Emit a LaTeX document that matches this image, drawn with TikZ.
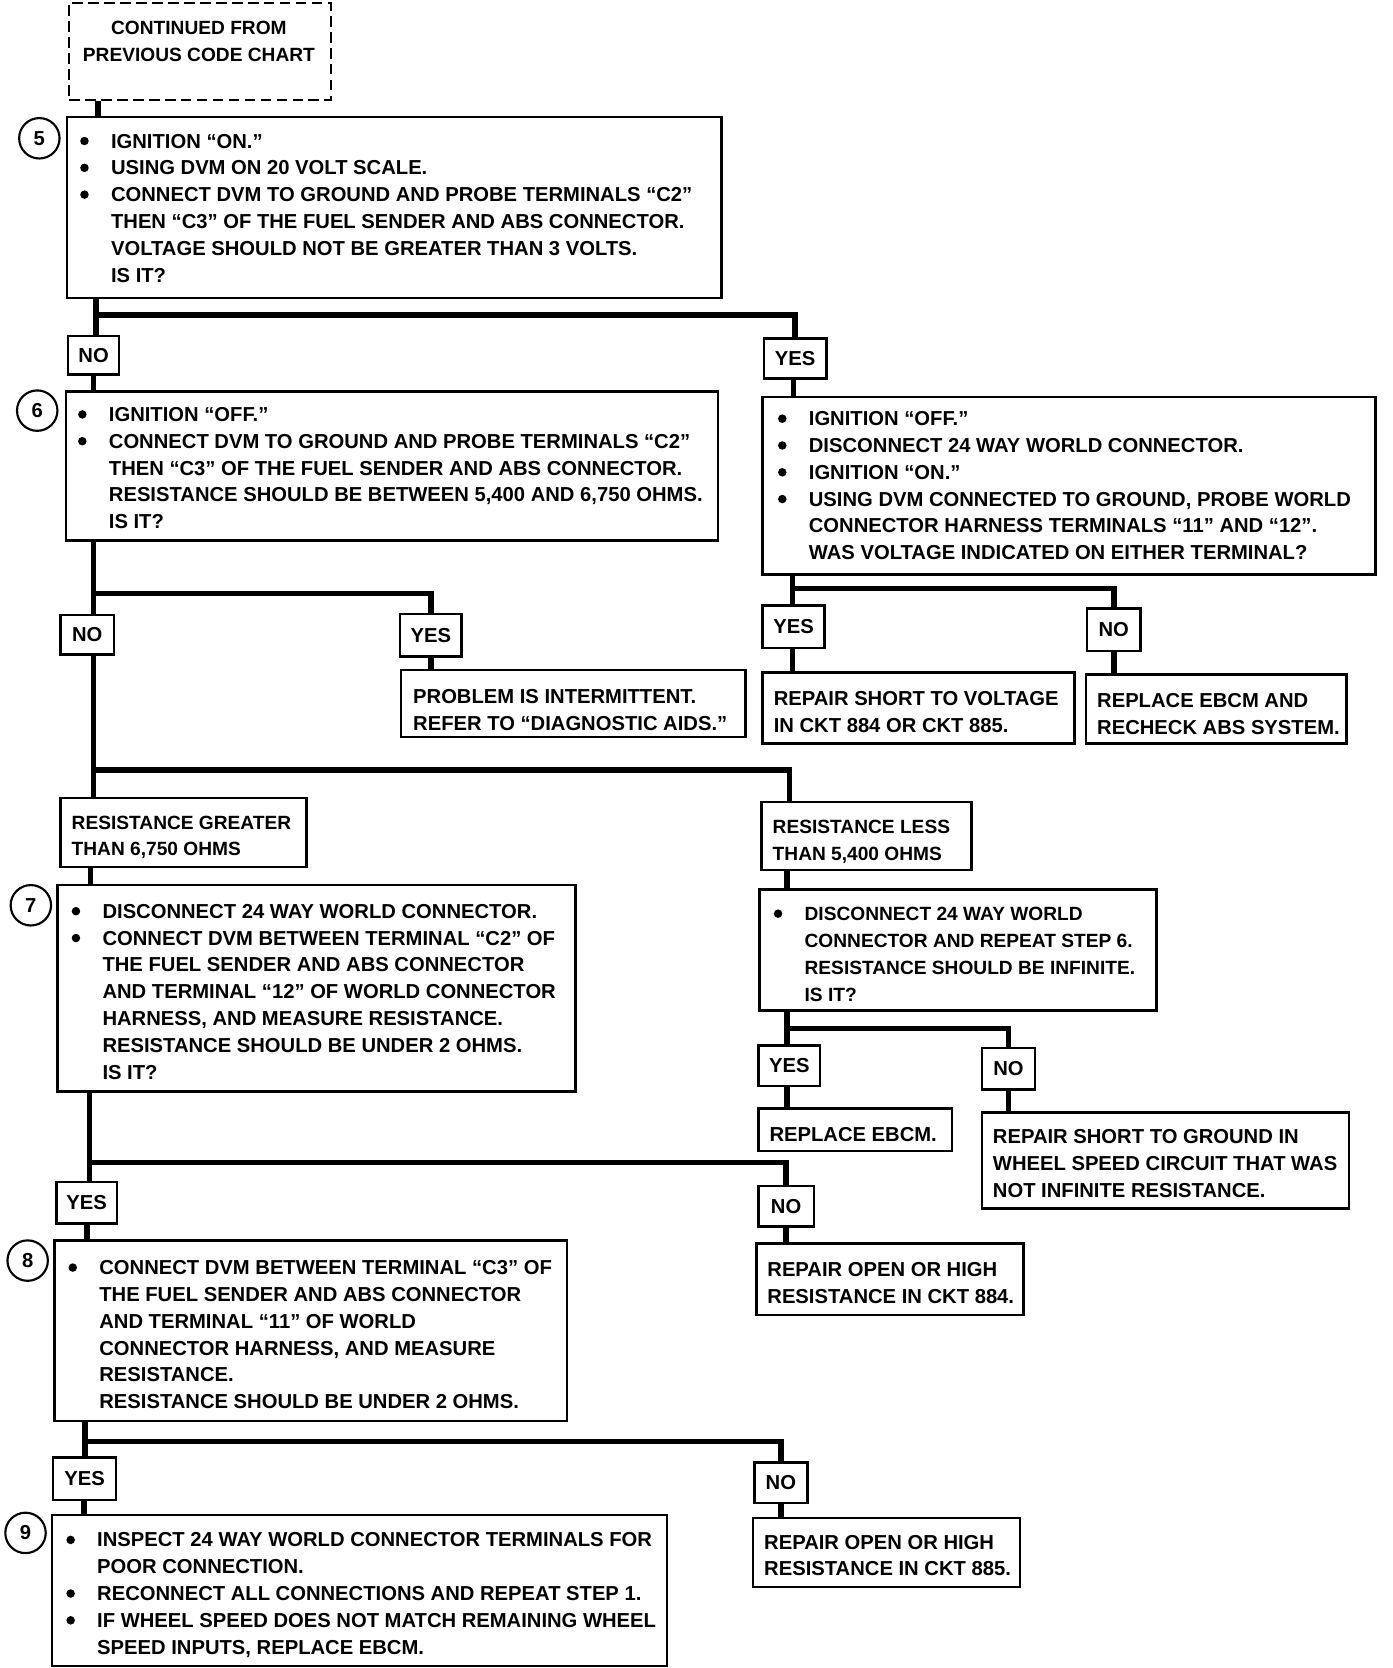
\documentclass[tikz,border=0pt]{standalone}
\usepackage{fontspec}
\setmainfont{Liberation Sans}
\usetikzlibrary{fit}
\newcommand\lbl{\fontsize{9.5}{12.6}\selectfont\bfseries}
\newcommand\slbl{\fontsize{9}{12.6}\selectfont\bfseries}
\newcommand\bul{\makebox[14.5pt][l]{\raisebox{1.3pt}{\tikz\fill (0,0) circle (2pt);}}}
\newcommand\ind{\hspace*{14.5pt}}
\tikzset{
  box/.style={draw, line width=1.2pt, inner sep=0pt},
  dbox/.style={box, dash pattern=on 5pt off 2.5pt},
  conn/.style={line width=2.6pt},
  txt/.style={inner sep=0pt, anchor=north west, align=left, font=\lbl},
  stxt/.style={txt, font=\slbl},
  yn/.style={inner sep=0pt, font=\lbl},
  num/.style={draw, circle, line width=1pt, minimum size=19pt, inner sep=0pt, font=\lbl}
}
\begin{document}
\begin{tikzpicture}[x=0.5pt, y=-0.5pt]
\useasboundingbox (0,0) rectangle (1309,1568);
% boxes
\node[dbox, fit={(65,3) (311,94)}] (cont) {};
\node[stxt, anchor=north, align=center] (tcont) at (187,19.5) {CONTINUED FROM\\PREVIOUS CODE CHART};

\node[box, fit={(63,110) (678,280)}] (b5) {};
\node[num] (c5) at (37,130) {5};
\node[txt] (t5) at (75,125.5) {\bul IGNITION “ON.”\\ \bul USING DVM ON 20 VOLT SCALE.\\ \bul CONNECT DVM TO GROUND AND PROBE TERMINALS “C2”\\ \ind THEN “C3” OF THE FUEL SENDER AND ABS CONNECTOR.\\ \ind VOLTAGE SHOULD NOT BE GREATER THAN 3 VOLTS.\\ \ind IS IT?};

\node[box, fit={(64,316) (112,352)}] (no1) {};
\node[yn] (lno1) at (no1) {NO};
\node[box, fit={(718,318) (777,356)}] (yes1) {};
\node[yn] (lyes1) at (yes1) {YES};

\node[box, fit={(62,368) (675,508)}] (b6) {};
\node[num] (c6) at (35,386) {6};
\node[txt] (t6) at (73,382.5) {\bul IGNITION “OFF.”\\ \bul CONNECT DVM TO GROUND AND PROBE TERMINALS “C2”\\ \ind THEN “C3” OF THE FUEL SENDER AND ABS CONNECTOR.\\ \ind RESISTANCE SHOULD BE BETWEEN 5,400 AND 6,750 OHMS.\\ \ind IS IT?};

\node[box, fit={(717,373) (1293,540)}] (r1) {};
\node[txt] (tr1) at (731,386.5) {\bul IGNITION “OFF.”\\ \bul DISCONNECT 24 WAY WORLD CONNECTOR.\\ \bul IGNITION “ON.”\\ \bul USING DVM CONNECTED TO GROUND, PROBE WORLD\\ \ind CONNECTOR HARNESS TERMINALS “11” AND “12”.\\ \ind WAS VOLTAGE INDICATED ON EITHER TERMINAL?};

\node[box, fit={(717,569) (775,609)}] (yes2r) {};
\node[yn] (lyes2r) at (yes2r) {YES};
\node[box, fit={(1022,572) (1072,612)}] (no2r) {};
\node[yn] (lno2r) at (no2r) {NO};
\node[box, fit={(717,632) (1010,699)}] (rsv) {};
\node[txt] (trsv) at (727,649.5) {REPAIR SHORT TO VOLTAGE\\IN CKT 884 OR CKT 885.};
\node[box, fit={(1021,634) (1266,699)}] (reb) {};
\node[txt] (treb) at (1031,651.5) {REPLACE EBCM AND\\RECHECK ABS SYSTEM.};

\node[box, fit={(57,578) (107,615)}] (no2) {};
\node[yn] (lno2) at (no2) {NO};
\node[box, fit={(376,577) (434,617)}] (yes2) {};
\node[yn] (lyes2) at (yes2) {YES};
\node[box, fit={(377,630) (701,693)}] (pint) {};
\node[txt] (tpint) at (388,647.5) {PROBLEM IS INTERMITTENT.\\REFER TO “DIAGNOSTIC AIDS.”};

\node[box, fit={(57,750) (288,815)}] (rg) {};
\node[stxt] (trg) at (67,766.5) {RESISTANCE GREATER\\THAN 6,750 OHMS};
\node[box, fit={(716,754) (913,818)}] (rl) {};
\node[stxt] (trl) at (726,770.5) {RESISTANCE LESS\\THAN 5,400 OHMS};

\node[box, fit={(54,832) (541,1026)}] (b7) {};
\node[num] (c7) at (29,851) {7};
\node[txt] (t7) at (67,849.5) {\bul DISCONNECT 24 WAY WORLD CONNECTOR.\\ \bul CONNECT DVM BETWEEN TERMINAL “C2” OF\\ \ind THE FUEL SENDER AND ABS CONNECTOR\\ \ind AND TERMINAL “12” OF WORLD CONNECTOR\\ \ind HARNESS, AND MEASURE RESISTANCE.\\ \ind RESISTANCE SHOULD BE UNDER 2 OHMS.\\ \ind IS IT?};

\node[box, fit={(714,836) (1087,950)}] (r7) {};
\node[stxt] (tr7) at (727,852.5) {\bul DISCONNECT 24 WAY WORLD\\ \ind CONNECTOR AND REPEAT STEP 6.\\ \ind RESISTANCE SHOULD BE INFINITE.\\ \ind IS IT?};

\node[box, fit={(713,983) (771,1021)}] (yes5) {};
\node[yn] (lyes5) at (yes5) {YES};
\node[box, fit={(923,985) (973,1024)}] (no5) {};
\node[yn] (lno5) at (no5) {NO};
\node[box, fit={(713,1042) (895,1082)}] (reb2) {};
\node[txt] (treb2) at (723,1059.5) {REPLACE EBCM.};
\node[box, fit={(923,1046) (1268,1136)}] (rsg) {};
\node[txt] (trsg) at (933,1061.5) {REPAIR SHORT TO GROUND IN\\WHEEL SPEED CIRCUIT THAT WAS\\NOT INFINITE RESISTANCE.};

\node[box, fit={(53,1111) (110,1150)}] (yes3) {};
\node[yn] (lyes3) at (yes3) {YES};
\node[box, fit={(713,1115) (765,1153)}] (no6) {};
\node[yn] (lno6) at (no6) {NO};
\node[box, fit={(711,1169) (962,1236)}] (ro884) {};
\node[txt] (tro884) at (721,1186.5) {REPAIR OPEN OR HIGH\\RESISTANCE IN CKT 884.};

\node[box, fit={(51,1166) (533,1336)}] (b8) {};
\node[num] (c8) at (26,1185) {8};
\node[txt] (t8) at (64,1184.5) {\bul CONNECT DVM BETWEEN TERMINAL “C3” OF\\ \ind THE FUEL SENDER AND ABS CONNECTOR\\ \ind AND TERMINAL “11” OF WORLD\\ \ind CONNECTOR HARNESS, AND MEASURE\\ \ind RESISTANCE.\\ \ind RESISTANCE SHOULD BE UNDER 2 OHMS.};

\node[box, fit={(50,1370) (109,1410)}] (yes4) {};
\node[yn] (lyes4) at (yes4) {YES};
\node[box, fit={(709,1375) (759,1413)}] (no7) {};
\node[yn] (lno7) at (no7) {NO};
\node[box, fit={(708,1427) (959,1492)}] (ro885) {};
\node[txt] (tro885) at (718,1442.5) {REPAIR OPEN OR HIGH\\RESISTANCE IN CKT 885.};

\node[box, fit={(49,1424) (627,1566)}] (b9) {};
\node[num] (c9) at (24,1441) {9};
\node[txt] (t9) at (62,1440.5) {\bul INSPECT 24 WAY WORLD CONNECTOR TERMINALS FOR\\ \ind POOR CONNECTION.\\ \bul RECONNECT ALL CONNECTIONS AND REPEAT STEP 1.\\ \bul IF WHEEL SPEED DOES NOT MATCH REMAINING WHEEL\\ \ind SPEED INPUTS, REPLACE EBCM.};

% junctions
\coordinate (j1) at (90,296);
\coordinate (j2) at (88,558);
\coordinate (j3) at (88,724);
\coordinate (j4) at (745,553);
\coordinate (j5) at (84,1093);
\coordinate (j6) at (740,967);
\coordinate (j7) at (80,1355);

% connectors
\draw[conn] (cont.south -| 92,0) -- (b5.north -| 92,0);
\draw[conn] (b5.south -| j1) -- (no1.north -| j1);
\draw[conn] (j1) -| (yes1.north);
\draw[conn] (no1.south -| 88,0) -- (b6.north -| 88,0);
\draw[conn] (yes1.south -| 746,0) -- (r1.north -| 746,0);

\draw[conn] (b6.south -| j2) -- (no2.north -| j2);
\draw[conn] (j2) -| (yes2.north);
\draw[conn] (yes2.south) -- (pint.north -| yes2.south);
\draw[conn] (no2.south -| j3) -- (rg.north -| j3);
\draw[conn] (j3) -| (rl.north -| 742,0);

\draw[conn] (r1.south -| j4) -- (yes2r.north -| j4);
\draw[conn] (j4) -| (no2r.north);
\draw[conn] (yes2r.south -| j4) -- (rsv.north -| j4);
\draw[conn] (no2r.south) -- (reb.north -| no2r.south);

\draw[conn] (rg.south -| 85,0) -- (b7.north -| 85,0);
\draw[conn] (rl.south -| 740,0) -- (r7.north -| 740,0);

\draw[conn] (b7.south -| j5) -- (yes3.north -| j5);
\draw[conn] (j5) -| (no6.north);
\draw[conn] (no6.south) -- (ro884.north -| no6.south);
\draw[conn] (yes3.south -| 82,0) -- (b8.north -| 82,0);

\draw[conn] (r7.south -| j6) -- (yes5.north -| j6);
\draw[conn] (j6) -| (no5.north);
\draw[conn] (yes5.south -| j6) -- (reb2.north -| j6);
\draw[conn] (no5.south) -- (rsg.north -| no5.south);

\draw[conn] (b8.south -| j7) -- (yes4.north -| j7);
\draw[conn] (j7) -| (no7.north);
\draw[conn] (no7.south) -- (ro885.north -| no7.south);
\draw[conn] (yes4.south -| 79,0) -- (b9.north -| 79,0);
\end{tikzpicture}
\end{document}
